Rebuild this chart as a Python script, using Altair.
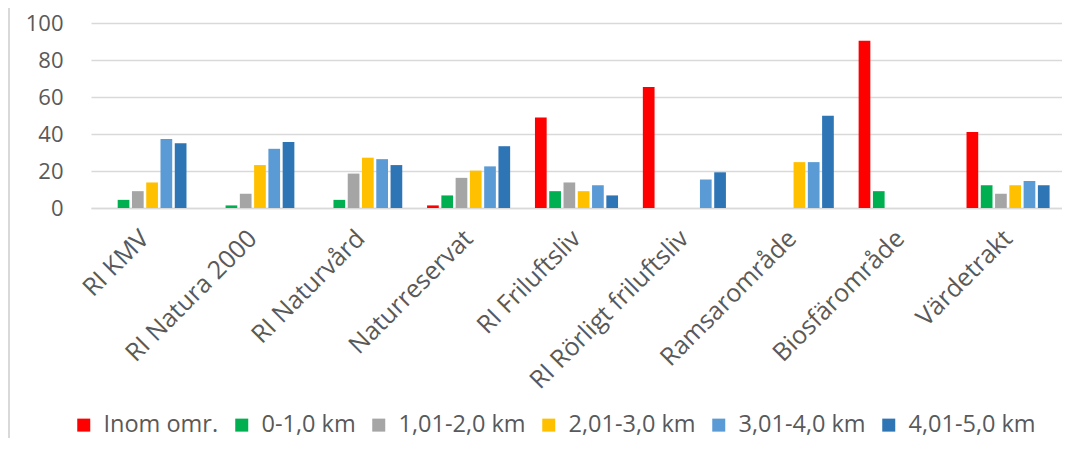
import altair as alt
import pandas as pd

categories = ["RI KMV", "RI Natura 2000", "RI Naturvård", "Naturreservat", "RI Friluftsliv",
              "RI Rörligt friluftsliv", "Ramsarområde", "Biosfärområde", "Värdetrakt"]
series = ["Inom omr.", "0-1,0 km", "1,01-2,0 km", "2,01-3,0 km", "3,01-4,0 km", "4,01-5,0 km"]
colors = ["#FF0000", "#00B050", "#A5A5A5", "#FFC000", "#5B9BD5", "#2E75B6"]

inom = [None, None, None, 1.4, 48.9, 65.4, None, 90.4, 41.1]
km0_1 = [4.4, 1.4, 4.4, 6.8, 9.1, None, None, 9.1, 12.3]
km1_2 = [9.1, 7.7, 18.6, 16.3, 13.8, None, None, None, 7.7]
km2_3 = [13.8, 23.2, 27.2, 20.2, 9.1, None, 24.8, None, 12.3]
km3_4 = [37.3, 32.0, 26.4, 22.5, 12.3, 15.4, 24.8, None, 14.6]
km4_5 = [35.0, 35.7, 23.2, 33.4, 6.8, 19.3, 49.8, None, 12.3]
y_ticks = [0, 20, 40, 60, 80, 100]

rows = []
for s, vals in zip(series, [inom, km0_1, km1_2, km2_3, km3_4, km4_5]):
    for c, v in zip(categories, vals):
        if v is not None:
            rows.append({"Kategori": c, "Serie": s, "Värde": v})
df = pd.DataFrame(rows)

FONT = "Open Sans"
GRID = "#d9d9d9"
TXT = "#595959"

bars = alt.Chart(df).mark_bar().encode(
    x=alt.X("Kategori:N", sort=categories,
            scale=alt.Scale(domain=categories, paddingInner=0.23, paddingOuter=0.115),
            axis=alt.Axis(title=None, labelAngle=-45, labelAlign="right", labelBaseline="middle",
                          labelFontSize=25, labelFont=FONT, labelColor=TXT, labelPadding=26,
                          labelLimit=400, domain=True, domainColor=GRID, domainWidth=1.5,
                          ticks=False, tickSize=0, labelOverlap=False)),
    xOffset=alt.XOffset("Serie:N", sort=series,
                        scale=alt.Scale(domain=series, paddingInner=0.18, paddingOuter=0)),
    y=alt.Y("Värde:Q", scale=alt.Scale(domain=[0, 100]),
            axis=alt.Axis(title=None, values=y_ticks, grid=True, gridColor=GRID, gridWidth=1.5,
                          domain=False, ticks=False, tickSize=0, labelFontSize=22, labelFont=FONT,
                          labelColor=TXT, labelPadding=28)),
    color=alt.Color("Serie:N", sort=series, scale=alt.Scale(domain=series, range=colors),
                    legend=alt.Legend(title=None, orient="none", legendX=-19, legendY=390,
                                      direction="horizontal", symbolType="square", symbolSize=169,
                                      symbolStrokeWidth=0, labelFontSize=23.5, labelFont=FONT,
                                      labelColor=TXT, columnPadding=11, labelOffset=8,
                                      labelLimit=300)),
)

frame = alt.Chart(alt.Data(values=[{"a": 1}])).mark_rule(color=GRID, strokeWidth=2).encode(
    x=alt.value(-82), y=alt.value(-23), y2=alt.value(418)
)

chart = alt.layer(bars, frame).properties(
    width=971, height=185,
    autosize=alt.AutoSizeParams(type="none"),
    padding={"left": 83, "top": 15, "right": 0, "bottom": 230},
).configure_view(stroke=None)

chart.save("out.html", embed_options={"renderer": "svg", "actions": False})
